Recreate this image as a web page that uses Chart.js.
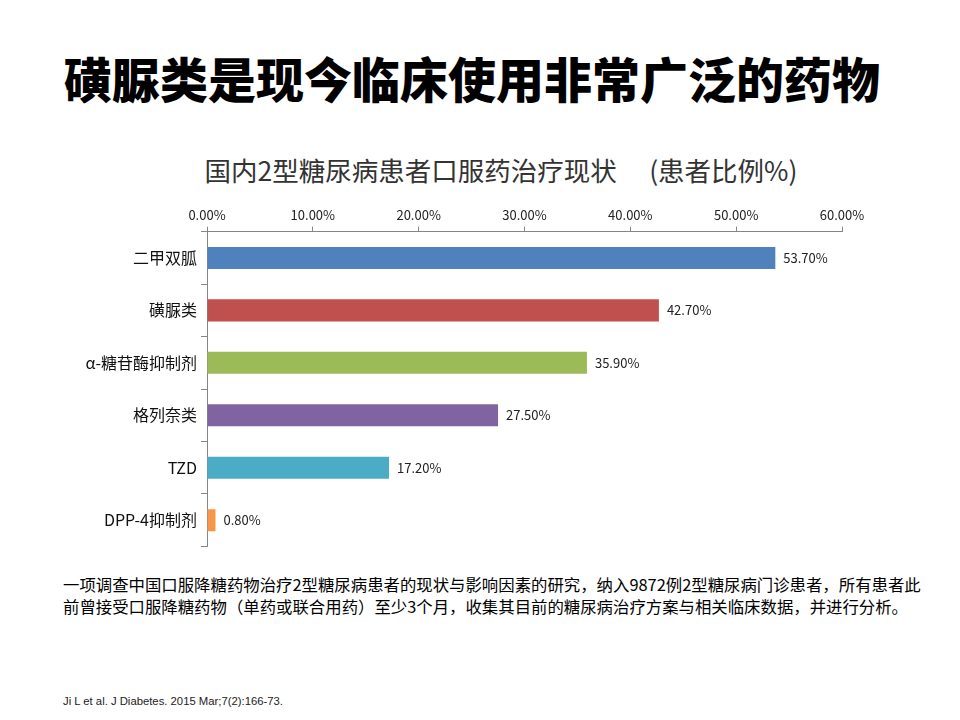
<!DOCTYPE html>
<html>
<head>
<meta charset="utf-8">
<script src="https://cdn.jsdelivr.net/npm/chart.js@4/dist/chart.umd.min.js"></script>
<style>
  body { margin: 0; width: 960px; height: 720px; background: #fff; position: relative; overflow: hidden;
         font-family: "Noto Sans CJK SC", "Noto Sans", sans-serif; }
  #titulo { position: absolute; left: 64px; top: 45px; font-size: 48px; font-weight: 900; color: #000;
            line-height: 64px; white-space: nowrap; }
  #subtitulo { position: absolute; left: 201px; width: 600px; top: 152px; text-align: center;
               font-size: 26.5px; line-height: 36px; color: #333; white-space: nowrap; }
  #grafica { position: absolute; left: 0; top: 140px; width: 960px; height: 420px; }
  #nota { position: absolute; left: 63px; top: 573px; font-size: 16.4px; line-height: 22px; color: #000;
          white-space: nowrap; }
  #cita { position: absolute; left: 63px; top: 695px; font-size: 11.3px; color: #222;
          font-family: "Liberation Sans Narrow", "Liberation Sans", sans-serif; white-space: nowrap; }
</style>
</head>
<body>
<div id="titulo">磺脲类是现今临床使用非常广泛的药物</div>
<div id="subtitulo">国内2型糖尿病患者口服药治疗现状　 (患者比例%)</div>
<div id="grafica"><canvas id="chartFarmacos"></canvas></div>
<div id="nota">一项调查中国口服降糖药物治疗2型糖尿病患者的现状与影响因素的研究，纳入9872例2型糖尿病门诊患者，所有患者此<br>前曾接受口服降糖药物（单药或联合用药）至少3个月，收集其目前的糖尿病治疗方案与相关临床数据，并进行分析。</div>
<div id="cita">Ji L et al. J Diabetes. 2015 Mar;7(2):166-73.</div>
<script>
const categorias = ['二甲双胍', '磺脲类', 'α-糖苷酶抑制剂', '格列奈类', 'TZD', 'DPP-4抑制剂'];
const porcentajes = [53.7, 42.7, 35.9, 27.5, 17.2, 0.8];
const colores = ['#4F81BD', '#C0504D', '#9BBB59', '#8064A2', '#4BACC6', '#F79646'];
const ticksX = [0, 10, 20, 30, 40, 50, 60];

const gris = '#868686';
const fuente = '"Noto Sans CJK SC", "Noto Sans", sans-serif';

// etiquetas de valor al final de cada barra
const etiquetasValor = {
    id: 'etiquetasValor',
    afterDatasetsDraw(chart) {
        const ctx = chart.ctx;
        const meta = chart.getDatasetMeta(0);
        ctx.save();
        ctx.font = '13px ' + fuente;
        ctx.fillStyle = '#222';
        ctx.textAlign = 'left';
        ctx.textBaseline = 'middle';
        meta.data.forEach((bar, i) => {
            ctx.fillText(porcentajes[i].toFixed(2) + '%', bar.x + 8, bar.y);
        });
        ctx.restore();
    }
};

const ctx = document.getElementById('chartFarmacos').getContext('2d');

const chartFarmacos = new Chart(ctx, {
    type: 'bar',
    data: {
        labels: categorias,
        datasets: [{
            data: porcentajes,
            backgroundColor: colores,
            borderWidth: 0,
            barPercentage: 0.42,
            categoryPercentage: 1
        }]
    },
    options: {
        indexAxis: 'y',
        responsive: true,
        maintainAspectRatio: false,
        animation: false,
        // el título va en html, arriba se deja el hueco
        layout: { padding: { left: 0, right: 118, top: 55.2, bottom: 12 } },
        plugins: {
            legend: { display: false },
            tooltip: { enabled: false }
        },
        scales: {
            x: {
                position: 'top',
                min: 0,
                max: 60,
                afterBuildTicks: (scale) => { scale.ticks = ticksX.map(v => ({ value: v })); },
                afterFit: (scale) => { scale.height = 36.5; },
                ticks: {
                    color: '#222',
                    padding: 4,
                    font: { family: fuente, size: 13 },
                    callback: (v) => v.toFixed(2) + '%'
                },
                grid: { drawOnChartArea: false, drawTicks: true, tickLength: 5, color: gris },
                border: { display: true, color: gris }
            },
            y: {
                afterFit: (scale) => { scale.width = 207; },
                ticks: {
                    color: '#111',
                    padding: 4,
                    font: { family: fuente, size: 16 }
                },
                grid: { offset: true, drawOnChartArea: false, drawTicks: true, tickLength: 6, color: gris },
                border: { display: true, color: gris }
            }
        }
    },
    plugins: [etiquetasValor]
});
</script>
</body>
</html>
